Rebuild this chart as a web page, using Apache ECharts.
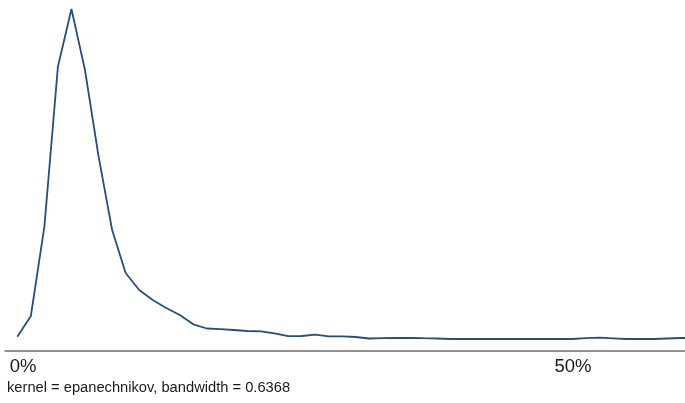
<!DOCTYPE html>
<html>
<head>
<meta charset="utf-8">
<title>Kernel density</title>
<script src="https://cdn.jsdelivr.net/npm/echarts@6/dist/echarts.min.js"></script>
<style>
  html, body { margin: 0; padding: 0; background: #ffffff; }
  #chart { width: 685px; height: 403px; }
</style>
</head>
<body>
<div id="chart"></div>
<script>
// Evaluation grid of the density estimate (percent)
const gridPoints = [
  -0.52, 0.71, 1.94, 3.17, 4.40, 5.63, 6.87, 8.10, 9.33, 10.56,
  11.79, 13.02, 14.25, 15.48, 16.71, 17.94, 19.17, 20.41, 21.64, 22.87,
  24.10, 25.33, 26.56, 27.79, 29.02, 30.25, 31.48, 32.71, 33.95, 35.18,
  36.41, 37.64, 38.87, 40.10, 41.33, 42.56, 43.79, 45.02, 46.25, 47.48,
  48.71, 49.95, 51.18, 52.41, 53.64, 54.87, 56.10, 57.33, 58.56, 59.79,
  61.02
];

// Estimated density at each grid point
const density = [
  0.0028, 0.0235, 0.1128, 0.2728, 0.3305, 0.2695, 0.1828, 0.1095, 0.0665, 0.0495,
  0.0395, 0.0315, 0.0245, 0.0152, 0.0110, 0.0103, 0.0095, 0.0085, 0.0082, 0.0062,
  0.0033, 0.0035, 0.0048, 0.0032, 0.0032, 0.0025, 0.0010, 0.0013, 0.0015, 0.0017,
  0.0013, 0.0010, 0.0005, 0.0005, 0.0005, 0.0005, 0.0005, 0.0005, 0.0005, 0.0005,
  0.0005, 0.0005, 0.0013, 0.0019, 0.0012, 0.0005, 0.0005, 0.0005, 0.0010, 0.0015,
  0.0015
];

// Labelled ticks on the horizontal axis
const tickValues = [0, 50];

const caption = 'kernel = epanechnikov, bandwidth = 0.6368';

const chart = echarts.init(document.getElementById('chart'), null, { renderer: 'canvas' });

chart.setOption({
  animation: false,
  backgroundColor: '#ffffff',
  textStyle: { fontFamily: 'Liberation Sans, Arial, sans-serif' },
  grid: { left: 5, right: 0, top: 5, bottom: 52.3, containLabel: false },
  xAxis: {
    type: 'value',
    min: -1.64,
    max: 60.18,
    axisLine: { show: true, onZero: false, lineStyle: { color: '#6e6e6e', width: 1.5 } },
    axisTick: { show: false },
    splitLine: { show: false },
    axisLabel: {
      customValues: tickValues,
      formatter: v => v + '%',
      color: '#1a1a1a',
      fontSize: 18.5,
      margin: 7,
      fontFamily: 'Liberation Sans, Arial, sans-serif'
    }
  },
  yAxis: {
    type: 'value',
    min: -0.0112,
    max: 0.3345,
    show: false,
    splitLine: { show: false }
  },
  series: [{
    type: 'line',
    data: gridPoints.map((x, i) => [x, density[i]]),
    showSymbol: false,
    smooth: false,
    lineStyle: { color: '#254f7c', width: 1.8 },
    clip: true
  }],
  graphic: [{
    type: 'text',
    left: 7,
    top: 380,
    style: {
      text: caption,
      fill: '#1a1a1a',
      fontSize: 14.7,
      fontFamily: 'Liberation Sans, Arial, sans-serif'
    }
  }]
});
</script>
</body>
</html>
